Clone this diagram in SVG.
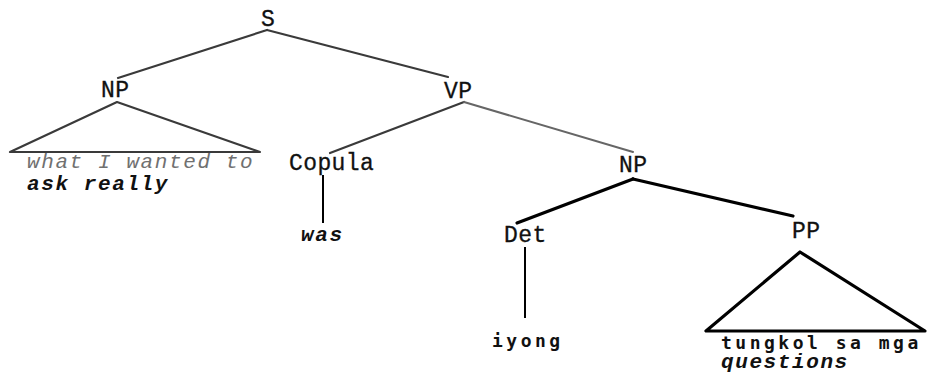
<svg xmlns="http://www.w3.org/2000/svg" width="927" height="376" viewBox="0 0 927 376">
  <style>
    .lbl { font-family: "Liberation Mono", "Courier New", monospace; font-size: 23px; letter-spacing: 0.4px; fill: #111; stroke: #111; stroke-width: 0.3px; }
    .it { font-family: "Liberation Mono", "Courier New", monospace; font-size: 21px; font-style: italic; font-weight: bold; letter-spacing: 1.6px; fill: #111; }
    .gray { font-weight: normal; fill: #707070; }
    .sans { font-family: "DejaVu Sans Mono", monospace; font-size: 18px; font-weight: bold; letter-spacing: 3.5px; fill: #111; }
    .thin { stroke: #3a3a3a; stroke-width: 2.2; fill: none; stroke-linecap: round; stroke-linejoin: round; }
    .soft { stroke: #666; stroke-width: 2; fill: none; stroke-linecap: round; }
    .thick { stroke: #000; stroke-width: 3.2; fill: none; stroke-linecap: round; stroke-linejoin: round; }
    .vert { stroke: #000; stroke-width: 2; fill: none; }
  </style>
  <rect width="927" height="376" fill="#fff"/>

  <g id="connectors">
    <line class="thin" x1="267" y1="30" x2="118" y2="78"/>
    <line class="thin" x1="267" y1="30" x2="448" y2="77"/>
    <polygon class="thin" points="117,102 10,152 260,152"/>
    <line class="thin" x1="464" y1="102" x2="330" y2="153"/>
    <line class="soft" x1="464" y1="102" x2="633" y2="152"/>
    <line class="vert" x1="323" y1="175" x2="323" y2="223"/>
    <line class="thick" x1="633" y1="179" x2="517" y2="223"/>
    <line class="thick" x1="633" y1="179" x2="793" y2="216"/>
    <line class="vert" x1="525" y1="247" x2="525" y2="318"/>
    <polygon class="thick" points="800,252 706,331 925,331"/>
  </g>

  <g id="node-s"><text class="lbl" x="261" y="26">S</text></g>
  <g id="node-np1"><text class="lbl" x="101" y="97">NP</text></g>
  <g id="node-np1-words">
    <text class="it gray" x="27" y="168">what I wanted to</text>
    <text class="it" x="27" y="190">ask really</text>
  </g>
  <g id="node-vp"><text class="lbl" x="444" y="98">VP</text></g>
  <g id="node-copula"><text class="lbl" x="289" y="170">Copula</text></g>
  <g id="node-was"><text class="it" x="301" y="241">was</text></g>
  <g id="node-np2"><text class="lbl" x="619" y="172">NP</text></g>
  <g id="node-det"><text class="lbl" x="504" y="242">Det</text></g>
  <g id="node-iyong"><text class="sans" x="492" y="347">iyong</text></g>
  <g id="node-pp"><text class="lbl" x="792" y="238">PP</text></g>
  <g id="node-pp-words">
    <text class="sans" x="721" y="349">tungkol sa mga</text>
    <text class="it" x="721" y="368">questions</text>
  </g>
</svg>
